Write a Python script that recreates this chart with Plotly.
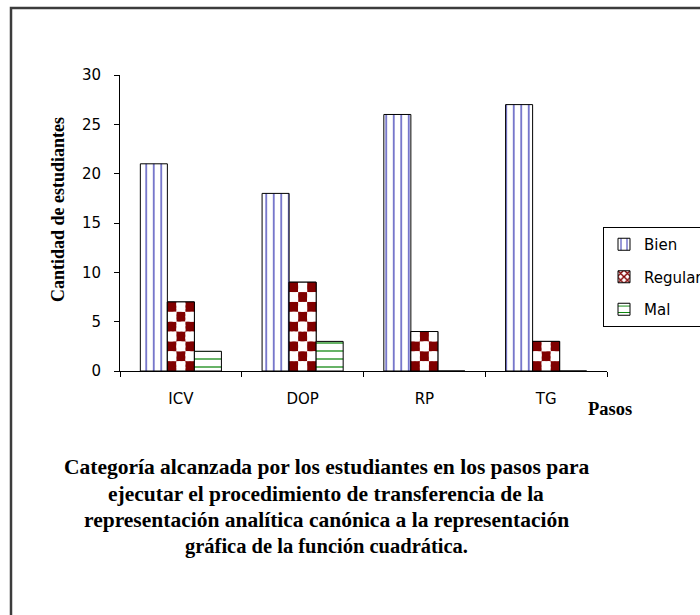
import plotly.graph_objects as go

# Steps of the procedure and number of students per category
pasos = ["ICV", "DOP", "RP", "TG"]
bien = [21, 18, 26, 27]
regular = [7, 9, 4, 3]
mal = [2, 3, 0, 0]

y_ticks = [0, 5, 10, 15, 20, 25, 30]

titulo = [
    "Categoría alcanzada por los estudiantes en los pasos para",
    "ejecutar el procedimiento de transferencia de la",
    "representación analítica canónica a la representación",
    "gráfica de la función cuadrática.",
]

# Layout geometry (pixels)
W, H = 700, 615
PL, PR, PT, PB = 120, 607, 75, 371


def px_x(x):
    return (x - PL) / (PR - PL)


def px_y(y):
    return (PB - y) / (PB - PT)


BAR_W = 0.222
OFF_BIEN, OFF_REG, OFF_MAL = -0.333, -0.111, 0.111
N_COLS = 3  # checkerboard columns in a "Regular" bar
CELL_H = 1.0  # checkerboard row height in data units

SERIF = "Liberation Serif"
SANS = "DejaVu Sans"
DARK_RED = "#800000"

fig = go.Figure()

fig.add_bar(
    x=pasos, y=bien, name="Bien", legendgroup="b",
    width=BAR_W, offset=OFF_BIEN,
    marker=dict(
        color="white",
        line=dict(color="black", width=1),
        pattern=dict(shape="|", fgcolor="#1c1ca8", bgcolor="white",
                     size=7.5, solidity=0.15, fillmode="replace"),
    ),
)

# "Regular": base bar (gives the legend swatch), then a checkerboard of
# dark red and white cells, then the black outline on top
fig.add_bar(
    x=pasos, y=regular, name="Regular", legendgroup="r",
    width=BAR_W, offset=OFF_REG,
    marker=dict(
        color="white",
        line=dict(color="black", width=1),
        pattern=dict(shape="x", fgcolor=DARK_RED, bgcolor="white",
                     size=6, solidity=0.5, fillmode="replace"),
    ),
)


def checker_cells(parity):
    cx, cbase, ch, coff = [], [], [], []
    cw = BAR_W / N_COLS
    for cat, v in zip(pasos, regular):
        k = 0
        while k * CELL_H < v:
            for c in range(N_COLS):
                if (c + k) % 2 == parity:
                    cx.append(cat)
                    cbase.append(k * CELL_H)
                    ch.append(min(CELL_H, v - k * CELL_H))
                    coff.append(OFF_REG + c * cw)
            k += 1
    return cx, cbase, ch, coff, cw


for parity, col in ((0, DARK_RED), (1, "white")):
    cx, cbase, ch, coff, cw = checker_cells(parity)
    fig.add_bar(
        x=cx, y=ch, base=cbase, width=cw, offset=coff,
        marker=dict(color=col, line=dict(width=0)),
        showlegend=False, hoverinfo="skip", legendgroup="r",
    )

fig.add_bar(
    x=pasos, y=regular, width=BAR_W, offset=OFF_REG,
    marker=dict(color="rgba(0,0,0,0)", line=dict(color="black", width=1)),
    showlegend=False, hoverinfo="skip", legendgroup="r",
)

fig.add_bar(
    x=pasos, y=mal, name="Mal", legendgroup="m",
    width=BAR_W, offset=OFF_MAL,
    marker=dict(
        color="white",
        line=dict(color="black", width=1),
        pattern=dict(shape="-", fgcolor="#008000", bgcolor="white",
                     size=8, solidity=0.15, fillmode="replace"),
    ),
)

# Chart caption, one annotation per line
line_y = [467, 493.5, 520, 546.5]
line_size = [21.5, 21.5, 21.5, 20.5]
annotations = [
    dict(text=t, x=px_x(326), y=px_y(yy), xref="paper", yref="paper",
         xanchor="center", yanchor="middle", showarrow=False,
         font=dict(family=SERIF, size=fs, color="black", weight="bold"))
    for t, yy, fs in zip(titulo, line_y, line_size)
]
annotations.append(dict(
    text="Cantidad de estudiantes", x=px_x(58), y=px_y(210),
    xref="paper", yref="paper", textangle=-90, showarrow=False,
    xanchor="center", yanchor="middle",
    font=dict(family=SERIF, size=18, color="black", weight="bold"),
))
annotations.append(dict(
    text="Pasos", x=px_x(610), y=px_y(409),
    xref="paper", yref="paper", showarrow=False,
    xanchor="center", yanchor="middle",
    font=dict(family=SERIF, size=18.5, color="black", weight="bold"),
))

fig.update_layout(
    width=W, height=H,
    margin=dict(l=PL, r=W - PR, t=PT, b=H - PB, autoexpand=False),
    paper_bgcolor="white", plot_bgcolor="white",
    barmode="overlay",
    showlegend=True,
    legend=dict(
        x=px_x(603), y=px_y(227), xanchor="left", yanchor="top",
        bgcolor="white", bordercolor="black", borderwidth=1,
        font=dict(family=SANS, size=15, color="black"),
        tracegroupgap=10, traceorder="grouped",
        itemwidth=30,
    ),
    xaxis=dict(
        type="category", categoryorder="array", categoryarray=pasos,
        range=[-0.5, len(pasos) - 0.5],
        showline=True, linecolor="black", linewidth=1,
        ticks="outside", tickson="boundaries", ticklen=5,
        tickcolor="black", showgrid=False, zeroline=False,
        tickfont=dict(family=SANS, size=15, color="black"),
        ticklabelstandoff=14,
    ),
    yaxis=dict(
        range=[0, 30], tickvals=y_ticks,
        showline=True, linecolor="black", linewidth=1,
        ticks="outside", ticklen=5, tickcolor="black",
        showgrid=False, zeroline=False,
        tickfont=dict(family=SANS, size=15, color="black"),
        ticklabelstandoff=10,
    ),
    annotations=annotations,
    shapes=[dict(
        type="rect", xref="paper", yref="paper",
        x0=px_x(11), x1=px_x(720), y0=px_y(630), y1=px_y(8),
        line=dict(color="#3c3c3c", width=2.5), fillcolor="rgba(0,0,0,0)",
        layer="above",
    )],
)

fig.write_html("out.html")
